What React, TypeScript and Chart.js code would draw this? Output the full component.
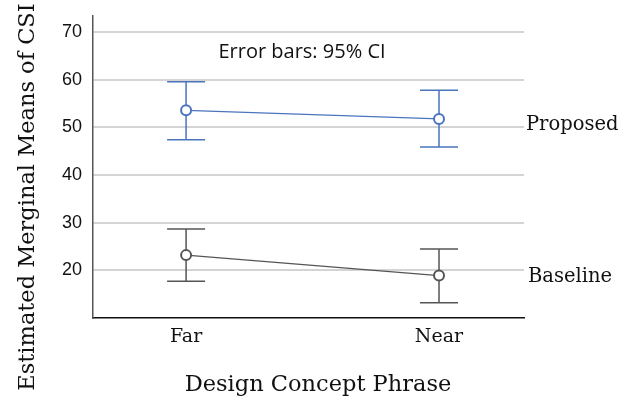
import React, { useEffect, useRef } from "react";
import { Chart, registerables } from "chart.js";
Chart.register(...registerables);

const categories = ["Far", "Near"];
const seriesNames = ["Proposed", "Baseline"];
const proposedMean = [53.6, 51.8];
const proposedLow = [47.4, 45.9];
const proposedHigh = [59.6, 57.8];
const baselineMean = [23.2, 18.9];
const baselineLow = [17.7, 13.2];
const baselineHigh = [28.7, 24.5];
const yTicks = [20, 30, 40, 50, 60, 70];
const colors = ["#4a74be", "#555555"];
const SERIF = "'DejaVu Serif', serif";

const errorBarPlugin = {
  id: "errbars",
  afterDatasetsDraw(chart: any) {
    const ctx = chart.ctx;
    const xs = chart.scales.x;
    const ys = chart.scales.y;
    const sets = [
      [proposedLow, proposedHigh, proposedMean],
      [baselineLow, baselineHigh, baselineMean],
    ];
    sets.forEach(([lo, hi, mean], si) => {
      ctx.save();
      ctx.strokeStyle = colors[si];
      ctx.lineWidth = 1.5;
      categories.forEach((_, i) => {
        const px = xs.getPixelForValue(i);
        const y1 = ys.getPixelForValue(lo[i]);
        const y2 = ys.getPixelForValue(hi[i]);
        const meanY = ys.getPixelForValue(mean[i]);
        ctx.beginPath();
        ctx.moveTo(px, y2);
        ctx.lineTo(px, meanY - 5);
        ctx.moveTo(px, meanY + 5);
        ctx.lineTo(px, y1);
        ctx.moveTo(px - 19, y1);
        ctx.lineTo(px + 19, y1);
        ctx.moveTo(px - 19, y2);
        ctx.lineTo(px + 19, y2);
        ctx.stroke();
      });
      ctx.restore();
    });
  },
  afterDraw(chart: any) {
    const ctx = chart.ctx;
    const ca = chart.chartArea;
    const ys = chart.scales.y;
    ctx.save();
    ctx.fillStyle = "#111";
    ctx.font = "19.5px " + SERIF;
    ctx.textAlign = "left";
    ctx.textBaseline = "middle";
    ctx.fillText(seriesNames[0], ca.right + 2, ys.getPixelForValue(proposedMean[1]) + 6);
    ctx.fillText(seriesNames[1], ca.right + 4, ys.getPixelForValue(baselineMean[1]) + 1);
    ctx.font = "20px 'Open Sans', sans-serif";
    ctx.textAlign = "center";
    ctx.fillText("Error bars: 95% CI", 302, 52);
    ctx.font = "22.5px " + SERIF;
    ctx.fillText("Design Concept Phrase", 318, 385);
    ctx.translate(28, 197);
    ctx.rotate(-Math.PI / 2);
    ctx.fillText("Estimated Merginal Means of CSI", 0, 0);
    ctx.restore();
  },
};

export default function App() {
  const ref = useRef<HTMLCanvasElement>(null);
  useEffect(() => {
    const mk = (name: string, vals: number[], c: string) => ({
      label: name,
      data: vals.map((v, i) => ({ x: i, y: v })),
      borderColor: c,
      borderWidth: 1.2,
      pointRadius: 5,
      pointBorderWidth: 2,
      pointBackgroundColor: "#fff",
      pointBorderColor: c,
    });
    const chart = new Chart(ref.current!, {
      type: "line",
      data: {
        datasets: [
          mk(seriesNames[0], proposedMean, colors[0]),
          mk(seriesNames[1], baselineMean, colors[1]),
        ],
      },
      options: {
        animation: false,
        responsive: false,
        layout: { padding: { left: 0, top: 16, right: 112, bottom: 0 } },
        plugins: { legend: { display: false }, tooltip: { enabled: false } },
        scales: {
          x: {
            type: "linear",
            min: -0.368,
            max: 1.336,
            afterBuildTicks: (s: any) => {
              s.ticks = categories.map((_, i) => ({ value: i }));
            },
            afterFit: (s: any) => {
              s.height = 86;
              s.paddingLeft = 0;
              s.paddingRight = 0;
            },
            ticks: {
              callback: (v: any) => categories[v as number] ?? "",
              font: { family: SERIF, size: 19 },
              color: "#111",
              padding: 8,
              maxRotation: 0,
            },
            grid: { display: false, drawTicks: false },
            border: { color: "#111", width: 1.5 },
          },
          y: {
            min: 10,
            max: 73.4,
            afterBuildTicks: (s: any) => {
              s.ticks = yTicks.map((v) => ({ value: v }));
            },
            afterFit: (s: any) => {
              s.width = 93;
              s.paddingTop = 0;
              s.paddingBottom = 0;
            },
            ticks: {
              font: { family: "'Liberation Sans', Arial, sans-serif", size: 18 },
              color: "#111",
              padding: 11,
            },
            grid: { color: "#d4d4d4", lineWidth: 2, drawTicks: false },
            border: { color: "#555", width: 1.5 },
          },
        },
      },
      plugins: [errorBarPlugin],
    } as any);
    return () => chart.destroy();
  }, []);
  return (
    <div style={{ position: "fixed", left: 0, top: 0, width: 636, height: 404, background: "#fff" }}>
      <canvas ref={ref} width={636} height={404} />
    </div>
  );
}
